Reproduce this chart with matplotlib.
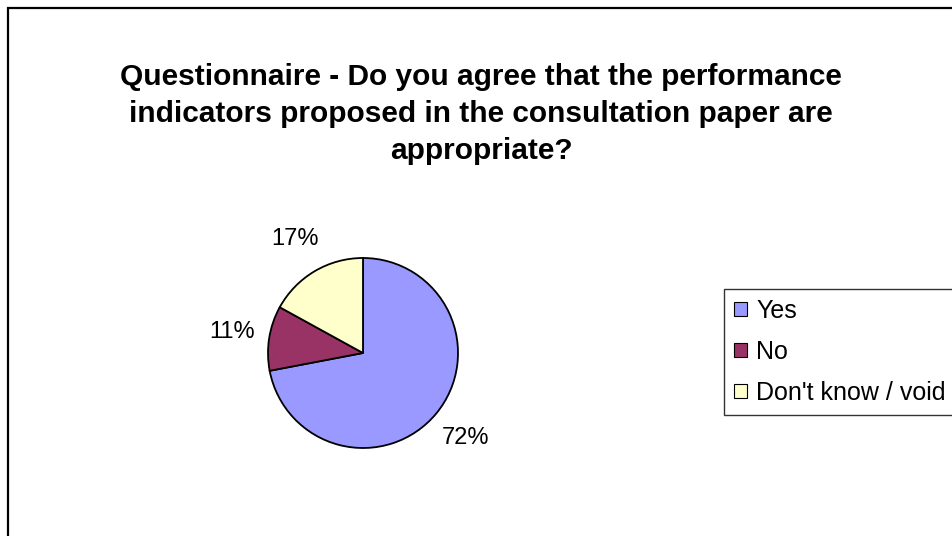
import numpy as np
import matplotlib.pyplot as plt
from matplotlib.patches import Patch, Rectangle

plt.rcParams['font.family'] = ['Liberation Sans', 'DejaVu Sans']

# data
labels = ['Yes', 'No', "Don't know / void"]
shares = [72, 11, 17]
colors = ['#9999FF', '#993366', '#FFFFCC']
title = ('Questionnaire - Do you agree that the performance\n'
         'indicators proposed in the consultation paper are\n'
         'appropriate?')

W, H = 952, 536
fig = plt.figure(figsize=(W / 100, H / 100), dpi=100)

# outer chart border (runs off right and bottom edges)
fig.add_artist(Rectangle((7.5 / W, -0.1), 1.2, 1.1 - 7.5 / H, transform=fig.transFigure,
                         fill=False, edgecolor='black', linewidth=1.6, clip_on=False))

fig.text(481 / W, 1 - 114 / H, title, ha='center', va='center', fontsize=21.5,
         fontweight='bold', linespacing=1.41)

# pie axes: center (363, 353), radius 95 px
cx, cy, r = 363, 353, 95
ax = fig.add_axes([(cx - r) / W, (H - cy - r) / H, 2 * r / W, 2 * r / H])
wedges, texts, autotexts = ax.pie(shares, colors=colors, startangle=90, counterclock=False,
                                  autopct='%1.0f%%', pctdistance=1.4,
                                  wedgeprops=dict(edgecolor='black', linewidth=1.3),
                                  textprops=dict(fontsize=17))
ax.set_xlim(-1, 1)
ax.set_ylim(-1, 1)

handles = [Patch(facecolor=c, edgecolor='black', linewidth=0.8) for c in colors]
leg = fig.legend(handles, labels, loc='upper left', bbox_to_anchor=(724 / W, 1 - 289 / H),
                 fontsize=18, frameon=True, fancybox=False, handlelength=0.5,
                 handleheight=0.5, handletextpad=0.4, labelspacing=0.67,
                 borderpad=0.4, borderaxespad=0)
leg.get_frame().set_edgecolor('black')
leg.get_frame().set_linewidth(1.0)

fig.savefig('out.png', dpi=100)
